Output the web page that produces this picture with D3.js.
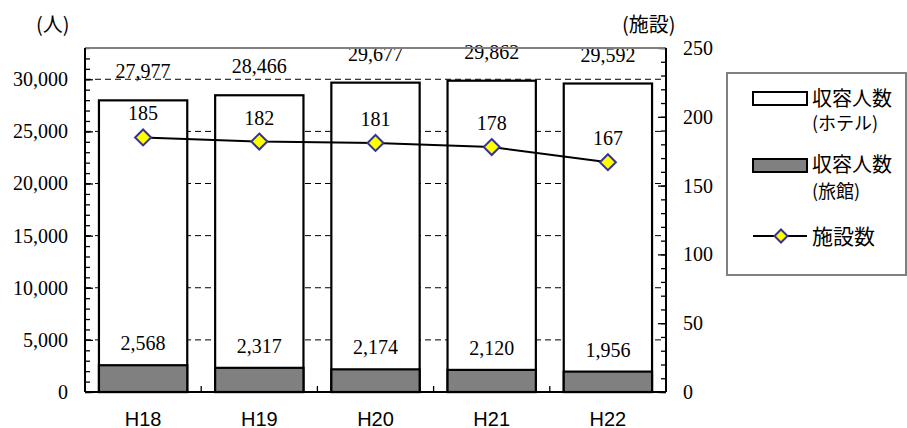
<!DOCTYPE html>
<html>
<head>
<meta charset="utf-8">
<script src="https://cdn.jsdelivr.net/npm/d3@7"></script>
<style>
	html, body { margin:0; padding:0; background:#fff; }
	svg { display:block; }
	.num { font-family:"Liberation Serif", "DejaVu Serif", serif; font-size:20px; fill:#000; }
	.jp { font-family:"Noto Sans CJK JP", "Noto Sans", sans-serif; fill:#000; }
</style>
</head>
<body>
<svg id="chart" width="907" height="428"></svg>
<script>
// data
const categories = ['H18', 'H19', 'H20', 'H21', 'H22'];
const hotelCapacity = [27977, 28466, 29677, 29862, 29592];   // 収容人数(ホテル)
const ryokanCapacity = [2568, 2317, 2174, 2120, 1956];       // 収容人数(旅館)
const facilityCount = [185, 182, 181, 178, 167];             // 施設数
const leftTicks = [0, 5000, 10000, 15000, 20000, 25000, 30000];
const rightTicks = [0, 50, 100, 150, 200, 250];

const svg = d3.select('#chart');

const margin = {top:48, left:85, right:241, bottom:36};
const W = +svg.attr('width');
const H = +svg.attr('height');
const innerWidth = W - margin.left - margin.right;
const innerHeight = H - margin.top - margin.bottom;

const xScale = d3.scaleBand()
	.domain(categories)
	.range([0, innerWidth])
	.paddingInner(0.24)
	.paddingOuter(0.12);

const yLeft = d3.scaleLinear().domain([0, 33000]).range([innerHeight, 0]);
const yRight = d3.scaleLinear().domain([0, 250]).range([innerHeight, 0]);

const g = svg.append('g')
	.attr('transform', `translate(${margin.left},${margin.top})`);

// dashed grid lines (behind bars)
g.append('g').selectAll('line').data(leftTicks.filter(d=>d>0))
	.enter().append('line')
	.attr('x1', 0).attr('x2', innerWidth)
	.attr('y1', d=>yLeft(d)).attr('y2', d=>yLeft(d))
	.attr('stroke', '#000')
	.attr('stroke-width', 1)
	.attr('stroke-dasharray', '6,4');

// hotel bars (full height from 0), ryokan bars overlapped in front
const bars = categories.map((c,i)=>({c, hotel:hotelCapacity[i], ryokan:ryokanCapacity[i], n:facilityCount[i]}));

g.selectAll('rect.hotel').data(bars)
	.enter().append('rect')
	.attr('class', 'hotel')
	.attr('x', d=>xScale(d.c))
	.attr('width', xScale.bandwidth())
	.attr('y', d=>yLeft(d.hotel))
	.attr('height', d=>innerHeight - yLeft(d.hotel))
	.attr('fill', '#fff')
	.attr('stroke', '#000')
	.attr('stroke-width', 2.2);

g.selectAll('rect.ryokan').data(bars)
	.enter().append('rect')
	.attr('class', 'ryokan')
	.attr('x', d=>xScale(d.c))
	.attr('width', xScale.bandwidth())
	.attr('y', d=>yLeft(d.ryokan))
	.attr('height', d=>innerHeight - yLeft(d.ryokan))
	.attr('fill', '#808080')
	.attr('stroke', '#000')
	.attr('stroke-width', 2.2);

// bar labels
const fmt = d3.format(',');
g.selectAll('text.hl').data(bars)
	.enter().append('text')
	.attr('class', 'num')
	.attr('text-anchor', 'middle')
	.attr('x', d=>xScale(d.c) + xScale.bandwidth()/2)
	.attr('y', d=>yLeft(d.hotel) - 22)
	.text(d=>fmt(d.hotel));

g.selectAll('text.rl').data(bars)
	.enter().append('text')
	.attr('class', 'num')
	.attr('text-anchor', 'middle')
	.attr('x', d=>xScale(d.c) + xScale.bandwidth()/2)
	.attr('y', d=>yLeft(d.ryokan) - 15)
	.text(d=>fmt(d.ryokan));

// facility line
const cx = d=>xScale(d.c) + xScale.bandwidth()/2;
const lineGenerator = d3.line()
	.x(cx)
	.y(d=>yRight(d.n));

g.append('path')
	.attr('d', lineGenerator(bars))
	.attr('fill', 'none')
	.attr('stroke', '#000')
	.attr('stroke-width', 2);

const diamond = r => `M0,${-r}L${r},0L0,${r}L${-r},0Z`;
g.selectAll('path.mk').data(bars)
	.enter().append('path')
	.attr('transform', d=>`translate(${cx(d)},${yRight(d.n)})`)
	.attr('d', diamond(8))
	.attr('fill', '#ffff00')
	.attr('stroke', '#333399')
	.attr('stroke-width', 2);

g.selectAll('text.nl').data(bars)
	.enter().append('text')
	.attr('class', 'num')
	.attr('text-anchor', 'middle')
	.attr('x', cx)
	.attr('y', d=>yRight(d.n) - 17)
	.text(d=>d.n);

// left axis: minor + major inward ticks
const yMinorL = d3.axisLeft(yLeft).tickValues(d3.range(0, 33001, 1000)).tickSize(-5).tickFormat('');
const yMinorLG = g.append('g').call(yMinorL);
yMinorLG.select('.domain').remove();

const yAxisL = d3.axisLeft(yLeft)
	.tickValues(leftTicks)
	.tickSize(-8)
	.tickPadding(17)
	.tickFormat(fmt);
const yAxisLG = g.append('g').call(yAxisL);
yAxisLG.select('.domain').remove();
yAxisLG.attr('font-size', null).attr('font-family', null);
yAxisLG.selectAll('text').attr('class', 'num');

// right axis
const yMinorR = d3.axisRight(yRight).tickValues(d3.range(0, 251, 10)).tickSize(-5).tickFormat('');
const yMinorRG = g.append('g').attr('transform', `translate(${innerWidth},0)`).call(yMinorR);
yMinorRG.select('.domain').remove();

const yAxisR = d3.axisRight(yRight)
	.tickValues(rightTicks)
	.tickSize(-8)
	.tickPadding(17);
const yAxisRG = g.append('g').attr('transform', `translate(${innerWidth},0)`).call(yAxisR);
yAxisRG.select('.domain').remove();
yAxisRG.attr('font-size', null).attr('font-family', null);
yAxisRG.selectAll('text').attr('class', 'num');

g.selectAll('.tick line').attr('stroke', '#000').attr('stroke-width', 1.3);

// x axis labels
const xAxis = d3.axisBottom(xScale).tickSize(0).tickPadding(20);
const xAxisG = g.append('g').attr('transform', `translate(0,${innerHeight})`).call(xAxis);
xAxisG.select('.domain').remove();
xAxisG.attr('font-family', '"Liberation Sans", Arial, sans-serif')
	.attr('font-size', 20);
xAxisG.selectAll('text').attr('fill', '#000');

// category boundary ticks
const step = xScale.step();
const bounds = categories.map(c=>xScale(c) - (step - xScale.bandwidth())/2).slice(1);
g.selectAll('line.bt').data(bounds)
	.enter().append('line')
	.attr('x1', d=>d).attr('x2', d=>d)
	.attr('y1', innerHeight).attr('y2', innerHeight - 6)
	.attr('stroke', '#000').attr('stroke-width', 1.3);

// plot frame
g.append('line').attr('x1', 0).attr('x2', innerWidth).attr('y1', 0).attr('y2', 0)
	.attr('stroke', '#808080').attr('stroke-width', 2);
g.append('line').attr('x1', 0).attr('x2', 0).attr('y1', 0).attr('y2', innerHeight)
	.attr('stroke', '#000').attr('stroke-width', 2);
g.append('line').attr('x1', innerWidth).attr('x2', innerWidth).attr('y1', 0).attr('y2', innerHeight)
	.attr('stroke', '#000').attr('stroke-width', 2);
g.append('line').attr('x1', 0).attr('x2', innerWidth).attr('y1', innerHeight).attr('y2', innerHeight)
	.attr('stroke', '#000').attr('stroke-width', 2);

// axis titles
svg.append('text').attr('class', 'jp').attr('font-size', 20)
	.attr('x', 36).attr('y', 32).text('(人)');
svg.append('text').attr('class', 'jp').attr('font-size', 20)
	.attr('x', 622).attr('y', 32).text('(施設)');

// legend
const lg = svg.append('g').attr('transform', 'translate(727,73)');
lg.append('rect')
	.attr('x', 0).attr('y', 0).attr('width', 179).attr('height', 202)
	.attr('fill', '#fff').attr('stroke', '#808080').attr('stroke-width', 2);

lg.append('rect').attr('x', 26).attr('y', 19).attr('width', 54).attr('height', 13)
	.attr('fill', '#fff').attr('stroke', '#000').attr('stroke-width', 2);
lg.append('text').attr('class', 'jp').attr('font-size', 20).attr('x', 85).attr('y', 33).text('収容人数');
lg.append('text').attr('class', 'jp').attr('font-size', 18).attr('x', 85).attr('y', 57).text('(ホテル)');

lg.append('rect').attr('x', 26).attr('y', 86).attr('width', 54).attr('height', 13)
	.attr('fill', '#808080').attr('stroke', '#000').attr('stroke-width', 2);
lg.append('text').attr('class', 'jp').attr('font-size', 20).attr('x', 85).attr('y', 99).text('収容人数');
lg.append('text').attr('class', 'jp').attr('font-size', 18).attr('x', 85).attr('y', 125).text('(旅館)');

lg.append('line').attr('x1', 26).attr('x2', 80).attr('y1', 163).attr('y2', 163)
	.attr('stroke', '#000').attr('stroke-width', 2);
lg.append('path').attr('transform', 'translate(54,163)').attr('d', diamond(6.5))
	.attr('fill', '#ffff00').attr('stroke', '#333399').attr('stroke-width', 2);
lg.append('text').attr('class', 'jp').attr('font-size', 21).attr('x', 85).attr('y', 171).text('施設数');
</script>
</body>
</html>
